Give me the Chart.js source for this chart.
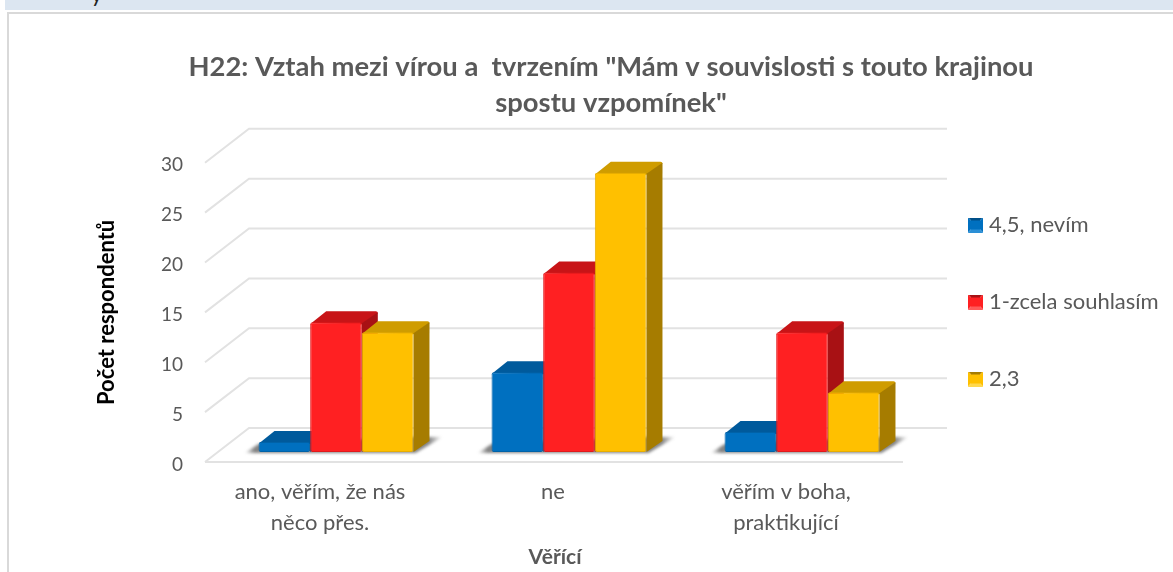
<!DOCTYPE html>
<html><head><meta charset="utf-8">
<style>
html,body{margin:0;padding:0;background:#fff;width:1173px;height:572px;overflow:hidden}
#strip{position:absolute;left:5px;top:0;width:1168px;height:10px;background:#dce6f1;overflow:hidden}
#strip span{position:absolute;left:86px;top:-20px;font:22px Lato,sans-serif;color:#222}
#frame{position:absolute;left:7px;top:12px;width:1166px;height:560px;border-left:2px solid #d9d9d9;border-top:2px solid #d9d9d9;box-sizing:border-box}
#wrap{position:absolute;left:0;top:0;width:1173px;height:572px}
</style>
<script src="https://cdn.jsdelivr.net/npm/chart.js@4/dist/chart.umd.min.js"></script>
</head><body>
<div id="strip"><span>y</span></div><div id="frame"></div>
<div id="wrap"><canvas id="c" width="1173" height="572"></canvas></div>
<script>
const titleLines = ['H22: Vztah mezi vírou a  tvrzením "Mám v souvislosti s touto krajinou', 'spostu vzpomínek"'];
const categories = [['ano, věřím, že nás', 'něco přes.'], 'ne', ['věřím v boha,', 'praktikující']];
const seriesNames = ['4,5, nevím', '1-zcela souhlasím', '2,3'];
const nevim = [1, 8, 2];
const souhlasim = [13, 18, 12];
const dvaTri = [12, 28, 6];
const yTitle = 'Počet respondentů';
const xTitle = 'Věřící';
const yMax = 30, yStep = 5;

const FONT = 'Lato, sans-serif';
const TEXT = '#595959';
const palette = [
  {front:'#0070c0', top:'#005a9c', side:'#004f88', edge:'#0062a8', light:'#2b8fd6'},
  {front:'#ff2022', top:'#c81417', side:'#a81114', edge:'#e01a1c', light:'#ff5a5a'},
  {front:'#ffc000', top:'#cf9c00', side:'#a67c00', edge:'#e6ad00', light:'#ffd84d'}
];
function swatch(p){
  const s=15, c=document.createElement('canvas'); c.width=s; c.height=s;
  const g=c.getContext('2d');
  const tri=(col,a,b)=>{g.fillStyle=col;g.beginPath();g.moveTo(a[0],a[1]);g.lineTo(b[0],b[1]);g.lineTo(s/2,s/2);g.closePath();g.fill();};
  tri(p.side,[0,0],[s,0]); tri(p.front,[0,0],[0,s]); tri(p.front,[s,0],[s,s]); tri(p.light,[0,s],[s,s]);
  g.fillStyle=p.front; g.fillRect(3,3,9,9);
  return c;
}
const swatches = palette.map(swatch);

const DX=16, DY=11;
function extrude(ctx,meta,p){
  ctx.save();
  meta.data.forEach(b=>{
    const L=b.x-b.width/2,R=b.x+b.width/2,T=b.y,B=b.base;
    ctx.fillStyle=p.top; ctx.beginPath();
    ctx.moveTo(L+1,T+1);ctx.lineTo(L+DX,T-DY);ctx.lineTo(R+DX-2,T-DY);
    ctx.quadraticCurveTo(R+DX,T-DY,R+DX,T-DY+2);ctx.lineTo(R,T+2);ctx.closePath();ctx.fill();
    ctx.fillStyle=p.side; ctx.beginPath();
    ctx.moveTo(R,T+1);ctx.lineTo(R+DX,T-DY+1);ctx.lineTo(R+DX,B-DY);ctx.lineTo(R,B);ctx.closePath();ctx.fill();
  });
  ctx.restore();
}
const scene3d = {
  id:'scene3d',
  beforeLayout(chart){
    const l=chart.legend;
    if(!l._patched){
      const fit=l.fit;
      l.fit=function(){fit.call(this);this.width=254.5;};
      l._patched=true;
    }
  },
  afterLayout(chart){
    const l=chart.legend;
    l.left=918; l.top=159;
    chart.scales.y.bottom+=20;
    chart.scales.x.left-=28;
  },
  beforeDatasetsDraw(chart){
    const {ctx,scales:{y}}=chart;
    ctx.save();
    ctx.strokeStyle='#e2e2e2'; ctx.lineWidth=2;
    y.ticks.forEach(t=>{
      const py=y.getPixelForValue(t.value);
      ctx.beginPath();
      ctx.moveTo(205,py+10); ctx.lineTo(249,py-24); ctx.lineTo(947,py-24);
      ctx.stroke();
    });
    const p0=y.getPixelForValue(0);
    ctx.beginPath(); ctx.moveTo(205,p0+10); ctx.lineTo(903,p0+10); ctx.stroke();
    const first=chart.getDatasetMeta(0).data, last=chart.getDatasetMeta(2).data;
    first.forEach((b,i)=>{
      const L=b.x-b.width/2, R=last[i].x+last[i].width/2;
      const g=ctx.createLinearGradient(L-14,0,R+29,0);
      g.addColorStop(0,'rgba(90,90,90,0)');g.addColorStop(0.05,'rgba(90,90,90,.75)');
      g.addColorStop(0.93,'rgba(90,90,90,.75)');g.addColorStop(1,'rgba(90,90,90,0)');
      ctx.filter='blur(1.5px)';
      ctx.fillStyle=g; ctx.beginPath();
      ctx.moveTo(L-14,p0+1);ctx.lineTo(R+2,p0+1);ctx.lineTo(R+29,p0-15);ctx.lineTo(R,p0-15);ctx.lineTo(L,p0-8);
      ctx.closePath();ctx.fill();
      ctx.filter='none';
    });
    ctx.restore();
    // paint the series left to right so each bar overlaps the side of the one before
    [0,1,2].forEach(i=>{
      const meta=chart.getDatasetMeta(i);
      extrude(ctx,meta,palette[i]);
      meta.controller.draw();
    });
    return false;
  }
};

const mk=(i,data)=>({label:seriesNames[i],data,backgroundColor:palette[i].front,borderColor:palette[i].edge,
  borderWidth:1,borderRadius:2,borderSkipped:false,categoryPercentage:0.665,barPercentage:1});

new Chart(document.getElementById('c'),{
  type:'bar',
  data:{labels:categories,datasets:[mk(0,nevim),mk(1,souhlasim),mk(2,dvaTri)]},
  plugins:[scene3d],
  options:{
    responsive:false,animation:false,
    layout:{padding:{left:49,right:0,top:0,bottom:0}},
    scales:{
      x:{
        grid:{display:false,drawTicks:false},border:{display:false},
        afterFit(s){s.height=120;},
        ticks:{color:TEXT,font:{family:FONT,size:22,lineHeight:1.41},padding:24.5,labelOffset:-16,maxRotation:0,autoSkip:false},
        title:{display:true,text:xTitle,color:TEXT,font:{family:FONT,size:21,weight:'bold',lineHeight:1.2},padding:{top:0,bottom:2}}
      },
      y:{
        min:0,max:yMax,
        grid:{display:false,drawTicks:false},border:{display:false},
        afterFit(s){s.width=170.5;},
        ticks:{stepSize:yStep,color:TEXT,font:{family:FONT,size:19},padding:36.5,labelOffset:12.5},
        title:{display:true,text:yTitle,color:'#000',font:{family:FONT,size:22,weight:'bold',lineHeight:1.2},padding:{top:45,bottom:0}}
      }
    },
    plugins:{
      tooltip:{enabled:false},
      title:{display:true,text:titleLines,color:TEXT,font:{family:FONT,size:27.4,weight:'bold',lineHeight:1.31},padding:{top:49,bottom:32}},
      legend:{
        position:'right',align:'start',
        labels:{
          usePointStyle:true,pointStyleWidth:5,boxWidth:15,boxHeight:15,padding:55,color:TEXT,font:{family:FONT,size:22},
          generateLabels(chart){
            return Chart.defaults.plugins.legend.labels.generateLabels(chart).map((it,i)=>({...it,pointStyle:swatches[i]}));
          }
        }
      }
    }
  }
});
</script>
</body></html>
